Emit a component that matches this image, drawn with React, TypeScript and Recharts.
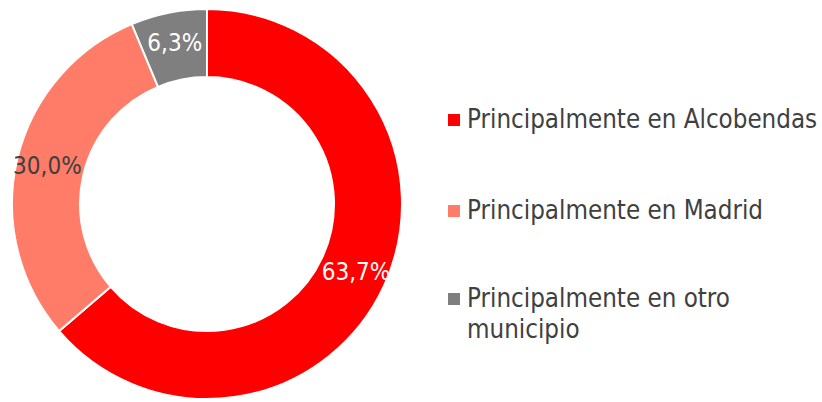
import React from "react";
import { PieChart, Pie, Cell, Legend } from "recharts";

const categories = [
  "Principalmente en Alcobendas",
  "Principalmente en Madrid",
  "Principalmente en otro municipio",
];
const values = [63.7, 30.0, 6.3];
const valueLabels = ["63,7%", "30,0%", "6,3%"];
const colors = ["#FF0000", "#FF7C68", "#7F7F7F"];
const labelColors = ["#FFFFFF", "#404040", "#FFFFFF"];

const data = categories.map((name, i) => ({ name, value: values[i] }));

const FONT = "'DejaVu Sans Condensed', 'DejaVu Sans', sans-serif";
const RAD = Math.PI / 180;

const renderLabel = (props: any) => {
  const { cx, cy, midAngle, innerRadius, outerRadius, index } = props;
  const r = (innerRadius + outerRadius) / 2 + 3;
  const x = cx + r * Math.cos(-midAngle * RAD);
  const y = cy + r * Math.sin(-midAngle * RAD);
  return (
    <text
      x={x}
      y={y}
      fill={labelColors[index]}
      textAnchor="middle"
      dominantBaseline="central"
      fontFamily={FONT}
      fontSize={24}
    >
      {valueLabels[index]}
    </text>
  );
};

const legendTops = [104, 195, 283];

const renderLegend = () => (
  <div style={{ position: "relative", width: 374, height: 402, fontFamily: FONT, fontSize: 25.7, color: "#404040", lineHeight: "31px" }}>
    {categories.map((c, i) => (
      <div key={c} style={{ position: "absolute", left: 0, top: legendTops[i], display: "flex", alignItems: "flex-start" }}>
        <span style={{ display: "inline-block", width: 12, height: 12, background: colors[i], marginTop: 10, marginRight: 7, flex: "none" }} />
        <span style={{ width: 354, whiteSpace: "normal" }}>{c}</span>
      </div>
    ))}
  </div>
);

export default function App() {
  return (
    <div style={{ position: "absolute", left: 0, top: 0, width: 822, height: 402, background: "#FFFFFF" }}>
      <PieChart width={822} height={402} margin={{ top: 0, right: 0, bottom: 0, left: 0 }}>
        <Pie
          data={data}
          dataKey="value"
          nameKey="name"
          cx={207}
          cy={204}
          innerRadius={127}
          outerRadius={195}
          startAngle={90}
          endAngle={-270}
          stroke="#FFFFFF"
          strokeWidth={2}
          label={renderLabel}
          labelLine={false}
          isAnimationActive={false}
        >
          {data.map((d, i) => (
            <Cell key={d.name} fill={colors[i]} />
          ))}
        </Pie>
        <Legend
          content={renderLegend}
          wrapperStyle={{ position: "absolute", left: 448, top: 0, width: 374, height: 402 }}
        />
      </PieChart>
    </div>
  );
}
